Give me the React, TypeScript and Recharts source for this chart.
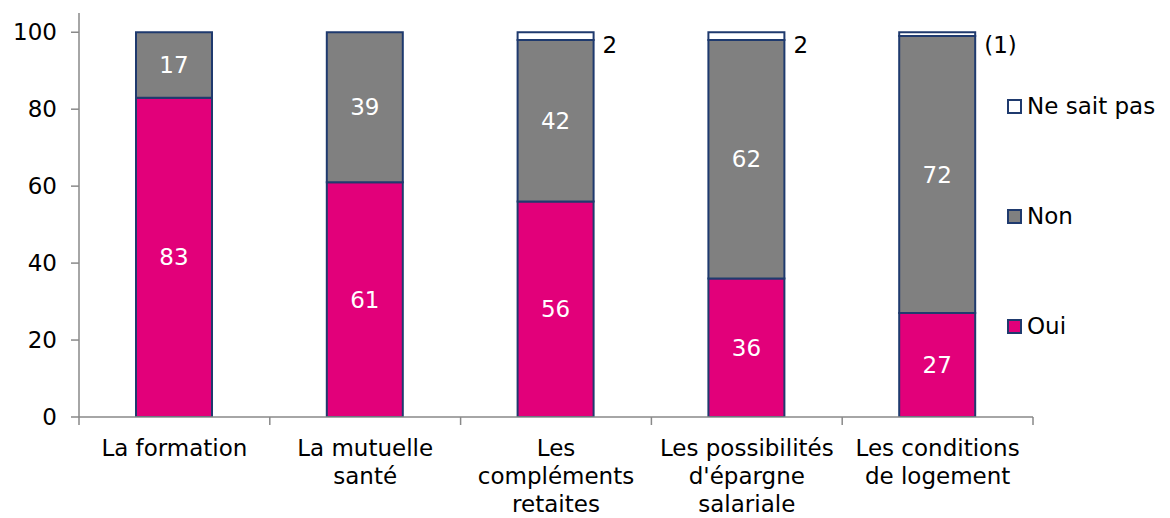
import { BarChart, Bar, XAxis, YAxis, Legend, LabelList } from 'recharts'

const categories = [
  ['La formation'],
  ['La mutuelle', 'santé'],
  ['Les', 'compléments', 'retaites'],
  ['Les possibilités', "d'épargne", 'salariale'],
  ['Les conditions', 'de logement'],
]
const oui = [83, 61, 56, 36, 27]
const non = [17, 39, 42, 62, 72]
const nsp = [null, null, 2, 2, 1]
const nspLabels = ['', '', '2', '2', '(1)']
const yTicks = [0, 20, 40, 60, 80, 100]

const data = categories.map((lines, i) => ({
  name: lines.join(' '),
  oui: oui[i],
  non: non[i],
  nsp: nsp[i],
  nspLabel: nspLabels[i],
}))

const W = 1170
const H = 518
const margin = { top: 13, right: 137, left: 0, bottom: 0 }
const yAxisWidth = 79
const band = (W - margin.left - margin.right - yAxisWidth) / categories.length

const font = 'DejaVu Sans, Verdana, sans-serif'
const fs = 23
const navy = '#1F3A6E'
const axisGrey = '#898989'

const colors: Record<string, string> = {
  oui: '#E2007A',
  non: '#808080',
  nsp: '#FFFFFF',
}

function CategoryTick(props: any) {
  const { x, y, index } = props
  const lines = categories[index] || []
  return (
    <g>
      <line x1={x - band / 2} x2={x - band / 2} y1={y} y2={y + 8} stroke={axisGrey} strokeWidth={1.5} />
      {index === categories.length - 1 && (
        <line x1={x + band / 2} x2={x + band / 2} y1={y} y2={y + 8} stroke={axisGrey} strokeWidth={1.5} />
      )}
      <text x={x} y={y + 39} textAnchor="middle" fontSize={fs} fontFamily={font} fill="#000">
        {lines.map((l, k) => (
          <tspan key={k} x={x} dy={k === 0 ? 0 : 28}>
            {l}
          </tspan>
        ))}
      </text>
    </g>
  )
}

function NspLabel(props: any) {
  const { x, y, width, value } = props
  if (!value) return null
  return (
    <text x={x + width + 9} y={y + 21} fontSize={fs} fontFamily={font} fill="#000">
      {value}
    </text>
  )
}

function LegendBox({ payload }: any) {
  const order = ['Ne sait pas', 'Non', 'Oui']
  const items = order.map((n) => (payload || []).find((p: any) => p.value === n)).filter(Boolean)
  return (
    <div style={{ fontFamily: font }}>
      {items.map((it: any, i: number) => (
        <div
          key={it.value}
          style={{
            display: 'flex',
            alignItems: 'center',
            height: 24,
            marginBottom: i < items.length - 1 ? 86 : 0,
          }}
        >
          <span
            style={{
              width: 11,
              height: 11,
              border: `2px solid ${navy}`,
              background: it.color,
              marginRight: 5,
              display: 'inline-block',
            }}
          />
          <span style={{ fontSize: fs, color: '#000' }}>{it.value}</span>
        </div>
      ))}
    </div>
  )
}

export default function App() {
  return (
    <div style={{ position: 'absolute', left: 0, top: 0, background: '#fff' }}>
      <BarChart width={W} height={H} data={data} margin={margin} barSize={76}>
        <XAxis
          dataKey="name"
          tick={<CategoryTick />}
          tickLine={false}
          tickSize={0}
          tickMargin={0}
          interval={0}
          height={101}
          axisLine={{ stroke: axisGrey, strokeWidth: 1.5 }}
        />
        <YAxis
          type="number"
          domain={[0, 105]}
          ticks={yTicks}
          width={yAxisWidth}
          tickSize={8}
          tickMargin={14}
          axisLine={{ stroke: axisGrey, strokeWidth: 1.5 }}
          tickLine={{ stroke: axisGrey, strokeWidth: 1.5 }}
          tick={{ fontSize: fs, fontFamily: font, fill: '#000' }}
          allowDataOverflow
        />
        <Legend
          layout="horizontal"
          verticalAlign="middle"
          align="center"
          content={<LegendBox />}
          wrapperStyle={{ left: 1007, top: 94, width: 'auto' }}
        />
        <Bar dataKey="oui" name="Oui" stackId="a" fill={colors.oui} stroke={navy} strokeWidth={2} isAnimationActive={false}>
          <LabelList dataKey="oui" position="center" fill="#fff" fontSize={fs} fontFamily={font} />
        </Bar>
        <Bar dataKey="non" name="Non" stackId="a" fill={colors.non} stroke={navy} strokeWidth={2} isAnimationActive={false}>
          <LabelList dataKey="non" position="center" fill="#fff" fontSize={fs} fontFamily={font} />
        </Bar>
        <Bar dataKey="nsp" name="Ne sait pas" stackId="a" fill={colors.nsp} stroke={navy} strokeWidth={2} isAnimationActive={false}>
          <LabelList dataKey="nspLabel" content={<NspLabel />} />
        </Bar>
      </BarChart>
    </div>
  )
}
